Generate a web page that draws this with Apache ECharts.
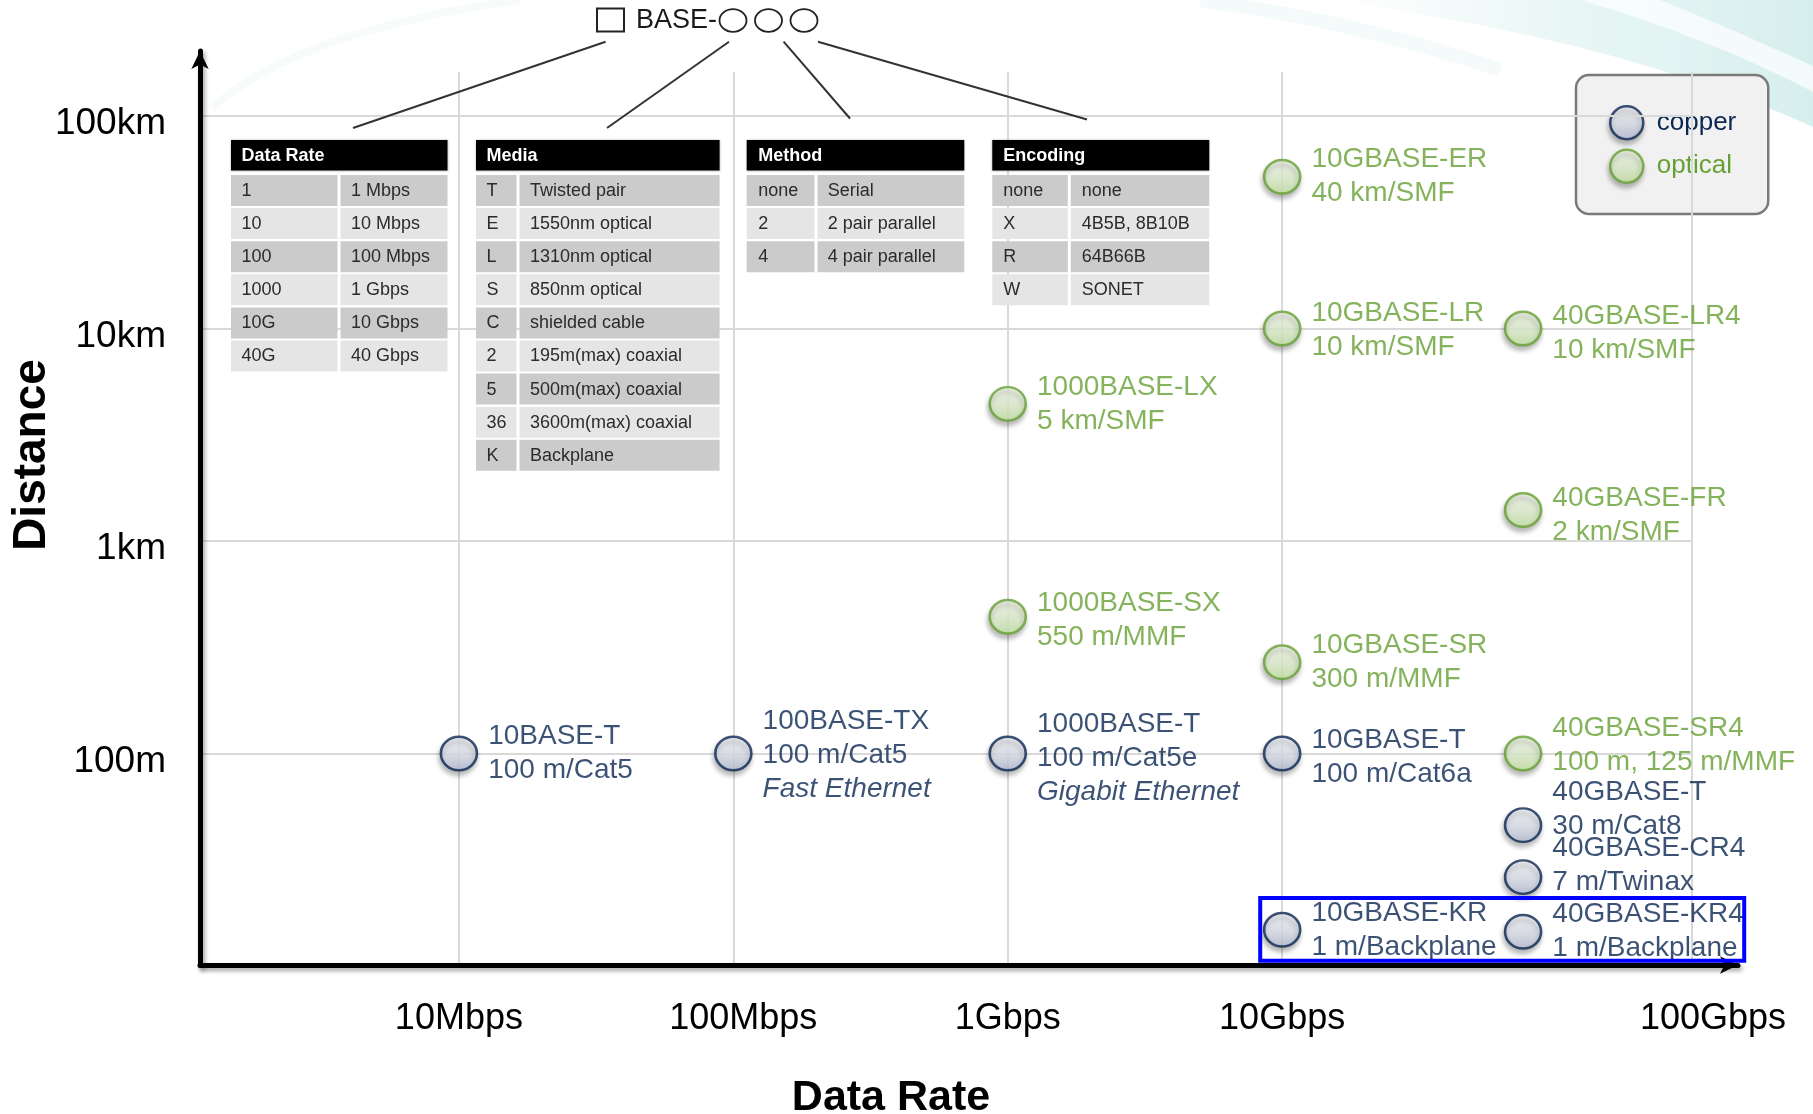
<!DOCTYPE html>
<html><head><meta charset="utf-8">
<script src="https://cdn.jsdelivr.net/npm/echarts@6/dist/echarts.min.js"></script>
<style>html,body{margin:0;padding:0;background:#fff}#c{width:1813px;height:1114px}</style>
</head><body><div id="c"></div>
<script>
// ================= DATA =================
// x positions are as drawn on the reference axis (decades above 1 Mbps)
const rateTickLabels = ['10Mbps', '100Mbps', '1Gbps', '10Gbps', '100Gbps'];
const rateTickPos = [1, 2, 3, 4, 5.4936];
const distTickLabels = { 2: '100m', 3: '1km', 4: '10km', 5: '100km' };

const copperNames = ['10BASE-T', '100BASE-TX', '1000BASE-T', '10GBASE-T', '40GBASE-T', '40GBASE-CR4', '10GBASE-KR', '40GBASE-KR4'];
const copperSpecs = ['100 m/Cat5', '100 m/Cat5', '100 m/Cat5e', '100 m/Cat6a', '30 m/Cat8', '7 m/Twinax', '1 m/Backplane', '1 m/Backplane'];
const copperNotes = ['', 'Fast Ethernet', 'Gigabit Ethernet', '', '', '', '', ''];
const copperRate = [1, 2, 3, 4, 4.878, 4.878, 4, 4.878];
const copperDist = [100, 100, 100, 100, 46, 26.2, 14.8, 14.5];

const opticalNames = ['1000BASE-LX', '1000BASE-SX', '10GBASE-ER', '10GBASE-LR', '10GBASE-SR', '40GBASE-LR4', '40GBASE-FR', '40GBASE-SR4'];
const opticalSpecs = ['5 km/SMF', '550 m/MMF', '40 km/SMF', '10 km/SMF', '300 m/MMF', '10 km/SMF', '2 km/SMF', '100 m, 125 m/MMF'];
const opticalRate = [3, 3, 4, 4, 4, 4.878, 4.878, 4.878];
const opticalDist = [4420, 440, 51800, 10000, 269, 10000, 1400, 100];

const legendNames = ['copper', 'optical'];
const axisTitles = ['Distance', 'Data Rate'];
const headerText = 'BASE-';

const tableTitles = ['Data Rate', 'Media', 'Method', 'Encoding'];
const tableDataRate = [['1', '1 Mbps'], ['10', '10 Mbps'], ['100', '100 Mbps'], ['1000', '1 Gbps'], ['10G', '10 Gbps'], ['40G', '40 Gbps']];
const tableMedia = [['T', 'Twisted pair'], ['E', '1550nm optical'], ['L', '1310nm optical'], ['S', '850nm optical'], ['C', 'shielded cable'], ['2', '195m(max) coaxial'], ['5', '500m(max) coaxial'], ['36', '3600m(max) coaxial'], ['K', 'Backplane']];
const tableMethod = [['none', 'Serial'], ['2', '2 pair parallel'], ['4', '4 pair parallel']];
const tableEncoding = [['none', 'none'], ['X', '4B5B, 8B10B'], ['R', '64B66B'], ['W', 'SONET']];

// ================= STYLE / LAYOUT =================
const FONT = '"Liberation Sans", Arial, Helvetica, sans-serif';
const NAVY = '#0b2753';
const GREEN = '#66a033';
const labelShift = {
  '100BASE-TX': [0, 2], '1000BASE-T': [0, 5], '10GBASE-T': [0, 4],
  '40GBASE-T': [0, -16], '40GBASE-CR4': [0, -12], '40GBASE-SR4': [0, -8],
  '10GBASE-LR': [0, 2], '40GBASE-LR4': [0, 5], '40GBASE-FR': [0, 5], '1000BASE-SX': [0, 4]
};
const copperFill = { type: 'linear', x: 0, y: 0, x2: 0, y2: 1, colorStops: [{ offset: 0, color: '#f7f8fc' }, { offset: 0.55, color: '#dde1ec' }, { offset: 1, color: '#b3bcd3' }] };
const opticalFill = { type: 'linear', x: 0, y: 0, x2: 0, y2: 1, colorStops: [{ offset: 0, color: '#f6fbef' }, { offset: 0.55, color: '#e0f1cf' }, { offset: 1, color: '#c3e4a2' }] };
const symShadow = { shadowBlur: 5, shadowColor: 'rgba(0,0,0,0.32)', shadowOffsetX: -1, shadowOffsetY: 4 };

function richFor(color) {
  return {
    a: { fontFamily: FONT, fontSize: 28, lineHeight: 34, color: color },
    i: { fontFamily: FONT, fontSize: 28, lineHeight: 34, color: color, fontStyle: 'italic' }
  };
}

const copperData = copperRate.map((x, i) => ({
  name: copperNames[i], value: [x, copperDist[i]],
  label: { offset: labelShift[copperNames[i]] || [0, 0] }
}));
const opticalData = opticalRate.map((x, i) => ({
  name: opticalNames[i], value: [x, opticalDist[i]],
  label: { offset: labelShift[opticalNames[i]] || [0, 0] }
}));

// decorative quadratic curve sampled to points (background swoosh only)
function quadPts(p0, c, p1, n) {
  const pts = [];
  for (let k = 0; k <= n; k++) {
    const t = k / n, u = 1 - t;
    pts.push([u * u * p0[0] + 2 * u * t * c[0] + t * t * p1[0], u * u * p0[1] + 2 * u * t * c[1] + t * t * p1[1]]);
  }
  return pts;
}

const gfx = [];
// background swooshes
gfx.push({ type: 'polygon', z: -10, silent: true, shape: { points: quadPts([1330, 0], [1620, 40], [1813, 127], 24).concat([[1813, 0]]) },
  style: { fill: { type: 'linear', x: 0, y: 0, x2: 1, y2: 0, colorStops: [{ offset: 0, color: 'rgba(200,235,232,0)' }, { offset: 0.45, color: 'rgba(195,232,229,0.35)' }, { offset: 1, color: 'rgba(180,225,222,0.55)' }] } } });
gfx.push({ type: 'polygon', z: -9, silent: true, shape: { points: quadPts([1580, 0], [1710, 38], [1813, 92], 20).concat(quadPts([1813, 66], [1720, 24], [1660, 0], 20)) },
  style: { fill: 'rgba(255,255,255,0.7)' } });
gfx.push({ type: 'bezierCurve', z: -10, silent: true, shape: { x1: 1200, y1: 0, cpx1: 1360, cpy1: 22, x2: 1500, y2: 70 },
  style: { fill: null, stroke: 'rgba(205,235,232,0.22)', lineWidth: 14 } });
gfx.push({ type: 'bezierCurve', z: -10, silent: true, shape: { x1: 212, y1: 108, cpx1: 300, cpy1: 30, x2: 520, y2: 0 },
  style: { fill: null, stroke: 'rgba(210,238,235,0.18)', lineWidth: 8 } });

// ---------- tables ----------
const tables = [tableDataRate, tableMedia, tableMethod, tableEncoding];
const tableGeom = [
  { L: 231, S: 339, R: 447.5, p1: 10.5, p2: 12 },
  { L: 476, S: 518, R: 719.6, p1: 10.5, p2: 12 },
  { L: 746.7, S: 816, R: 964.3, p1: 11.5, p2: 11.7 },
  { L: 992.3, S: 1069.3, R: 1209.3, p1: 11, p2: 12.4 }
];
tables.forEach((rows, t) => {
  const g = tableGeom[t];
  gfx.push({ type: 'rect', z: 10, shape: { x: g.L, y: 140, width: g.R - g.L, height: 30.5 },
    style: { fill: '#000', shadowBlur: 2, shadowColor: 'rgba(0,0,0,0.3)' } });
  gfx.push({ type: 'text', z: 11, x: g.L + g.p1, y: 156,
    style: { text: tableTitles[t], font: 'bold 18px ' + FONT, fill: '#fff', verticalAlign: 'middle' } });
  rows.forEach((r, i) => {
    const top = 175 + 33.1 * i;
    const fill = i % 2 === 0 ? '#cbcbcb' : '#e5e5e5';
    gfx.push({ type: 'rect', z: 10, shape: { x: g.L, y: top, width: g.S - g.L - 1.5, height: 31 }, style: { fill } });
    gfx.push({ type: 'rect', z: 10, shape: { x: g.S + 1.5, y: top, width: g.R - g.S - 1.5, height: 31 }, style: { fill } });
    gfx.push({ type: 'text', z: 11, x: g.L + g.p1, y: top + 16,
      style: { text: r[0], font: '18px ' + FONT, fill: '#2b2b2b', verticalAlign: 'middle' } });
    gfx.push({ type: 'text', z: 11, x: g.S + g.p2, y: top + 16,
      style: { text: r[1], font: '18px ' + FONT, fill: '#2b2b2b', verticalAlign: 'middle' } });
  });
});

// header "□ BASE-○○○" and pointer lines
gfx.push({ type: 'rect', z: 10, shape: { x: 597, y: 8.5, width: 27, height: 23 }, style: { fill: null, stroke: '#222', lineWidth: 2 } });
gfx.push({ type: 'text', z: 10, x: 636, y: 21, style: { text: headerText, font: '27px ' + FONT, fill: '#1a1a1a', verticalAlign: 'middle' } });
[733, 768.5, 804].forEach(cx => gfx.push({ type: 'ellipse', z: 10, shape: { cx, cy: 20.5, rx: 13.5, ry: 11.3 }, style: { fill: null, stroke: '#222', lineWidth: 1.8 } }));
[[605.6, 41.7, 353, 128], [729, 41.7, 607, 128], [783.6, 41.7, 850, 118.5], [818, 41.7, 1087, 119.5]].forEach(l =>
  gfx.push({ type: 'line', z: 10, shape: { x1: l[0], y1: l[1], x2: l[2], y2: l[3] }, style: { stroke: '#333', lineWidth: 2 } }));

// axis titles
gfx.push({ type: 'text', z: 10, x: 32, y: 455, rotation: Math.PI / 2,
  style: { text: axisTitles[0], font: 'bold 46px ' + FONT, fill: '#000', align: 'center', verticalAlign: 'middle' } });
gfx.push({ type: 'text', z: 10, x: 891, y: 1098,
  style: { text: axisTitles[1], font: 'bold 43px ' + FONT, fill: '#000', align: 'center', verticalAlign: 'middle' } });

// blue highlight box round the backplane entries
gfx.push({ type: 'rect', z: 20, shape: { x: 1260.2, y: 898, width: 484, height: 62.7 }, style: { fill: null, stroke: '#0000ff', lineWidth: 4 } });

const yMin = Math.pow(10, 1.0047), yMax = Math.pow(10, 5.207);
const xMin = 0.0565, xMax = rateTickPos[rateTickPos.length - 1];

const axisArrowLine = { color: '#000', width: 5, shadowBlur: 4, shadowColor: 'rgba(0,0,0,0.35)', shadowOffsetX: 2, shadowOffsetY: 3 };

const chart = echarts.init(document.getElementById('c'), null, { renderer: 'canvas' });
chart.setOption({
  animation: false,
  backgroundColor: '#fff',
  grid: [
    { left: 200, top: 72, width: 1492, height: 893, containLabel: false },
    { left: 200, top: 51, width: 1538, height: 914, containLabel: false }
  ],
  xAxis: [
    {
      gridIndex: 0, type: 'value', min: xMin, max: xMax,
      axisLine: { show: false }, axisTick: { show: false, customValues: rateTickPos },
      splitLine: { show: true, lineStyle: { color: '#d9d9d9', width: 2 } },
      axisLabel: {
        customValues: rateTickPos, margin: 36, fontFamily: FONT, fontSize: 36, color: '#000',
        formatter: v => {
          const i = rateTickPos.findIndex(p => Math.abs(p - v) < 1e-6);
          if (i < 0) return '';
          if (i === 1) return '{m|' + rateTickLabels[i] + '}';
          if (i === 4) return '{g|' + rateTickLabels[i] + '}';
          return rateTickLabels[i];
        },
        rich: {
          m: { fontFamily: FONT, fontSize: 36, color: '#000', padding: [0, 0, 0, 20] },
          g: { fontFamily: FONT, fontSize: 36, color: '#000', padding: [0, 0, 0, 42] }
        }
      }
    },
    {
      gridIndex: 1, type: 'value', min: 0, max: 1,
      axisLine: { show: true, symbol: ['none', 'arrow'], symbolSize: [13, 18], lineStyle: axisArrowLine },
      axisTick: { show: false }, axisLabel: { show: false }, splitLine: { show: false }
    }
  ],
  yAxis: [
    {
      gridIndex: 0, type: 'log', logBase: 10, min: yMin, max: yMax,
      axisLine: { show: false }, axisTick: { show: false },
      splitLine: { show: true, showMinLine: false, showMaxLine: false, lineStyle: { color: '#d9d9d9', width: 2 } },
      axisLabel: {
        margin: 34, fontFamily: FONT, fontSize: 37, color: '#000',
        showMinLabel: false, showMaxLabel: false,
        formatter: v => {
          const l = Math.log10(v), r = Math.round(l);
          return Math.abs(l - r) < 0.01 && distTickLabels[r] ? '{d|' + distTickLabels[r] + '}' : '';
        },
        rich: { d: { fontFamily: FONT, fontSize: 37, color: '#000', padding: [16, 0, 0, 0] } }
      }
    },
    {
      gridIndex: 1, type: 'value', min: 0, max: 1,
      axisLine: { show: true, symbol: ['none', 'arrow'], symbolSize: [13, 18], lineStyle: axisArrowLine },
      axisTick: { show: false }, axisLabel: { show: false }, splitLine: { show: false }
    }
  ],
  legend: {
    data: [
      { name: legendNames[0], textStyle: { color: NAVY }, itemStyle: Object.assign({ borderWidth: 2.5 }, symShadow) },
      { name: legendNames[1], textStyle: { color: GREEN }, itemStyle: Object.assign({ borderWidth: 2.5 }, symShadow) }
    ],
    orient: 'vertical', left: 1576, top: 75, icon: 'circle',
    itemWidth: 44, itemHeight: 33, itemGap: 8,
    padding: [30, 32, 30, 33],
    backgroundColor: '#f1f1f1', borderColor: '#7a7a7a', borderWidth: 2.5, borderRadius: 13,
    textStyle: { fontFamily: FONT, fontSize: 26, padding: [9, 0, 0, 3] },
    selectedMode: false, z: -1
  },
  graphic: { elements: gfx },
  series: [
    {
      type: 'scatter', name: legendNames[0], xAxisIndex: 0, yAxisIndex: 0, clip: false, z: 5,
      symbol: 'circle', symbolSize: [36, 33.5], data: copperData,
      itemStyle: Object.assign({ color: copperFill, borderColor: NAVY, borderWidth: 2.5 }, symShadow),
      label: {
        show: true, position: 'right', distance: 10, color: NAVY,
        formatter: p => {
          const i = p.dataIndex;
          const lines = ['{a|' + copperNames[i] + '}', '{a|' + copperSpecs[i] + '}'];
          if (copperNotes[i]) lines.push('{i|' + copperNotes[i] + '}');
          return lines.join('\n');
        },
        rich: richFor(NAVY)
      },
      emphasis: { disabled: true }
    },
    {
      type: 'scatter', name: legendNames[1], xAxisIndex: 0, yAxisIndex: 0, clip: false, z: 5,
      symbol: 'circle', symbolSize: [36, 33.5], data: opticalData,
      itemStyle: Object.assign({ color: opticalFill, borderColor: GREEN, borderWidth: 2.5 }, symShadow),
      label: {
        show: true, position: 'right', distance: 10, color: GREEN,
        formatter: p => '{a|' + opticalNames[p.dataIndex] + '}\n{a|' + opticalSpecs[p.dataIndex] + '}',
        rich: richFor(GREEN)
      },
      emphasis: { disabled: true }
    }
  ]
});
</script>
</body></html>
